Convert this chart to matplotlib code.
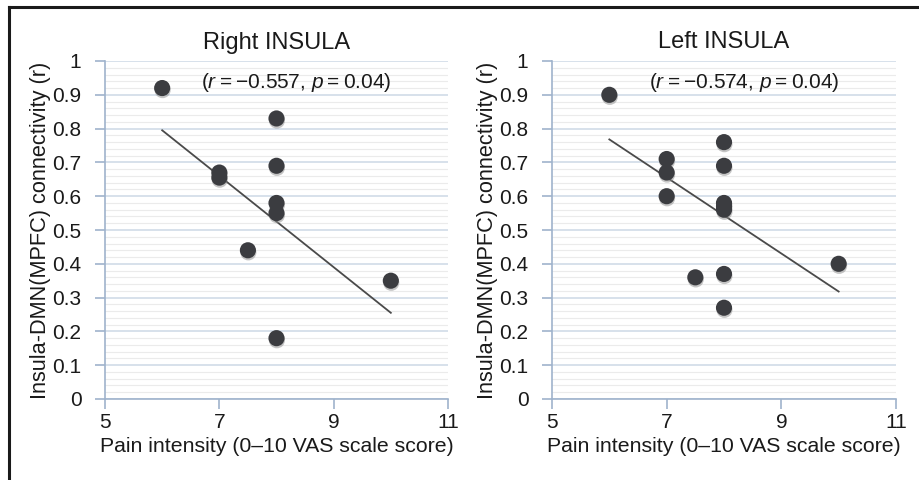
import numpy as np
import matplotlib
matplotlib.use('Agg')
import matplotlib.pyplot as plt
import matplotlib.patheffects as pe
from matplotlib.lines import Line2D
from matplotlib.ticker import MultipleLocator

plt.rcParams.update({'font.family': ['Liberation Sans', 'DejaVu Sans'],
                     'font.size': 15,
                     'text.color': '#1a1a1a',
                     'axes.labelcolor': '#1a1a1a',
                     'xtick.color': '#9fb3cc',
                     'ytick.color': '#9fb3cc',
                     'xtick.labelcolor': '#1a1a1a',
                     'ytick.labelcolor': '#1a1a1a',
                     'mathtext.fontset': 'custom',
                     'mathtext.it': 'Liberation Sans:italic',
                     'mathtext.rm': 'Liberation Sans',
                     })

# right insula
right_x = [6, 7, 7, 8, 8, 8, 8, 7.5, 10, 8]
right_y = [0.92, 0.67, 0.655, 0.83, 0.69, 0.58, 0.55, 0.44, 0.35, 0.18]
right_fit_x = [6, 10]
right_fit_y = [0.795, 0.255]
right_stats = "−0.557", "0.04"

# left insula
left_x = [6, 7, 7, 7, 8, 8, 8, 8, 8, 7.5, 8, 8, 10]
left_y = [0.90, 0.71, 0.67, 0.60, 0.76, 0.69, 0.58, 0.57, 0.56, 0.36, 0.37, 0.27, 0.40]
left_fit_x = [6, 10]
left_fit_y = [0.768, 0.318]
left_stats = "−0.574", "0.04"

xticks = [5, 7, 9, 11]
yticks = [0, 0.1, 0.2, 0.3, 0.4, 0.5, 0.6, 0.7, 0.8, 0.9, 1]
ytick_labels = ['0', '0.1', '0.2', '0.3', '0.4', '0.5', '0.6', '0.7', '0.8', '0.9', '1']

fig = plt.figure(figsize=(9.19, 4.8), dpi=100)
ax1 = fig.add_axes([105/919, 1-399/480, 343/919, 338/480])
ax2 = fig.add_axes([552/919, 1-399/480, 344/919, 338/480])

panels = [(ax1, "Right INSULA", right_x, right_y, right_fit_x, right_fit_y, right_stats),
          (ax2, "Left INSULA", left_x, left_y, left_fit_x, left_fit_y, left_stats)]

for ax, title, xs, ys, fx, fy, (r, p) in panels:
    ax.set_xlim(5, 11)
    ax.set_ylim(0, 1)
    ax.set_xticks(xticks)
    ax.set_yticks(yticks)
    ax.set_yticklabels(ytick_labels)
    ax.yaxis.set_minor_locator(MultipleLocator(0.02))
    ax.tick_params(axis='y', which='minor', length=0)
    ax.tick_params(axis='both', which='major', length=7, width=1.2, labelsize=15)
    ax.tick_params(axis='x', pad=3)
    ax.tick_params(axis='y', pad=10)
    ax.grid(axis='y', which='minor', color='#ebebeb', lw=0.8)
    ax.grid(axis='y', which='major', color='#cdd9e6', lw=1.1)
    ax.set_axisbelow(True)
    for s in ['top', 'right']:
        ax.spines[s].set_visible(False)
    for s in ['left', 'bottom']:
        ax.spines[s].set_color('#9fb3cc')
        ax.spines[s].set_linewidth(1.2)
    ax.plot(fx, fy, color='#4a4a4a', lw=1.3, zorder=3)
    ax.scatter(xs, ys, s=135, color='#3b3c40', edgecolors='none', zorder=4,
               path_effects=[pe.SimplePatchShadow(offset=(0.3, -1.5), shadow_rgbFace='0.55', alpha=0.5),
                             pe.Normal()])
    ax.set_title(title, fontsize=17, pad=9)
    ax.text(8.35, 0.935, f"($r$\u2009=\u2009{r}, $p$\u2009=\u2009{p})", ha='center', va='center', fontsize=15)
    ax.set_xlabel("Pain intensity (0–10 VAS scale score)", fontsize=15.3, labelpad=4)
    ax.set_ylabel("Insula-DMN(MPFC) connectivity (r)", fontsize=15.7, labelpad=1)

# outer frame (left and top edges visible)
fig.add_artist(Line2D([9/919, 9/919], [0, 1-6.5/480], color='#1a1a1a', lw=2.2))
fig.add_artist(Line2D([9/919, 1], [1-6.5/480, 1-6.5/480], color='#1a1a1a', lw=2.2))

fig.savefig('out.png', dpi=100)
